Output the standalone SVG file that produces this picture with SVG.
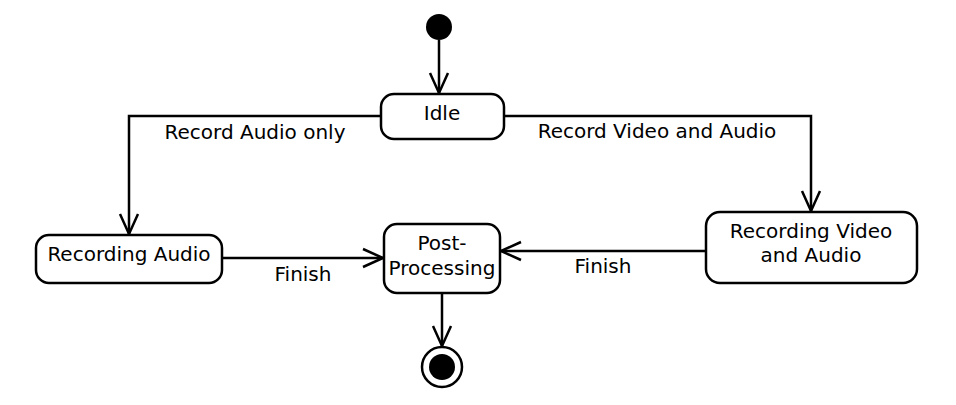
<svg xmlns="http://www.w3.org/2000/svg" width="956" height="405" viewBox="0 0 956 405">
<style>
.node{fill:#fff;stroke:#000;stroke-width:2.5}
.edge{fill:none;stroke:#000;stroke-width:2.5}
.head{fill:none;stroke:#000;stroke-width:2.5;stroke-linecap:butt}
text{font-family:"DejaVu Sans",sans-serif;font-size:20px;fill:#000}
.c{text-anchor:middle}
</style>
<rect width="956" height="405" fill="#fff"/>
<g id="edges">
<path class="edge" d="M439,40 V93"/>
<path class="head" d="M430,73 L439,93 L448,73"/>
<path class="edge" d="M381,116 H129 V234"/>
<path class="head" d="M120,214 L129,234 L138,214"/>
<path class="edge" d="M504,116 H811 V211"/>
<path class="head" d="M802,191 L811,211 L820,191"/>
<path class="edge" d="M222,258 H383"/>
<path class="head" d="M363,249 L383,258 L363,267"/>
<path class="edge" d="M706,251 H501"/>
<path class="head" d="M521,242 L501,251 L521,260"/>
<path class="edge" d="M442,294 V346"/>
<path class="head" d="M433,326 L442,346 L451,326"/>
<text x="255" y="139" class="c">Record Audio only</text>
<text x="657" y="138" class="c">Record Video and Audio</text>
<text x="303" y="281" class="c">Finish</text>
<text x="603" y="273" class="c">Finish</text>
</g>
<g id="start"><circle cx="439" cy="27" r="13" fill="#000"/></g>
<g id="idle"><rect class="node" x="381" y="94" width="123" height="45" rx="13"/><text x="442" y="120" class="c">Idle</text></g>
<g id="recording-audio"><rect class="node" x="36" y="235" width="186" height="48" rx="13"/><text x="129" y="261" class="c">Recording Audio</text></g>
<g id="post-processing"><rect class="node" x="384" y="224" width="116" height="69" rx="13"/><text x="442" y="250" class="c">Post-</text><text x="442" y="275" class="c">Processing</text></g>
<g id="recording-video"><rect class="node" x="706" y="212" width="211" height="71" rx="14"/><text x="811" y="238" class="c">Recording Video</text><text x="811" y="262" class="c">and Audio</text></g>
<g id="end"><circle cx="442" cy="367" r="20" fill="#fff" stroke="#000" stroke-width="2.5"/><circle cx="442" cy="367" r="13" fill="#000"/></g>
</svg>
